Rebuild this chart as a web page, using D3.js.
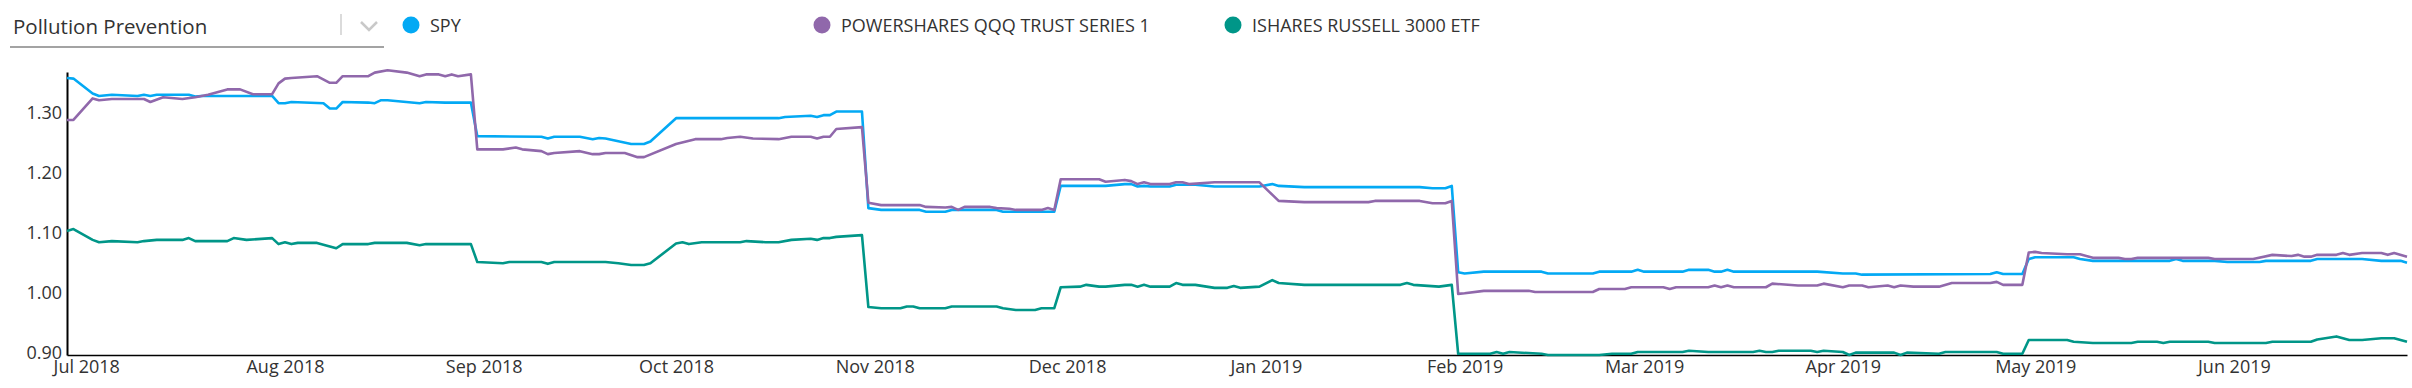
<!DOCTYPE html>
<html>
<head>
<meta charset="utf-8">
<script src="https://cdn.jsdelivr.net/npm/d3@7"></script>
<style>
  body { margin: 0; background: #fff; font-family: "Open Sans", sans-serif; }
  .axis text { font-family: "Open Sans", sans-serif; font-size: 18px; fill: #333; }
</style>
</head>
<body>
<div id="chart"></div>
<script>
// series names + colours (legend order)
var seriesNames = ["SPY", "POWERSHARES QQQ TRUST SERIES 1", "ISHARES RUSSELL 3000 ETF"];
var seriesColors = ["#03a9f4", "#9068ab", "#009688"];

// x extent of the data and y tick labels
var dateRange = ["2018-06-28", "2019-06-28"];
var yRange = [0.896, 1.368];
var yTicks = [0.90, 1.00, 1.10, 1.20, 1.30];

// values: [date, value]
var spy = [
  ["2018-06-28",1.358],["2018-06-29",1.357],["2018-07-02",1.332],["2018-07-03",1.328],["2018-07-05",1.330],
  ["2018-07-09",1.328],["2018-07-10",1.330],["2018-07-11",1.328],["2018-07-12",1.330],["2018-07-17",1.330],
  ["2018-07-18",1.327],["2018-07-19",1.328],["2018-07-30",1.328],["2018-07-31",1.316],["2018-08-01",1.316],
  ["2018-08-02",1.318],["2018-08-07",1.316],["2018-08-08",1.307],["2018-08-09",1.307],["2018-08-10",1.318],
  ["2018-08-14",1.317],["2018-08-15",1.316],["2018-08-16",1.321],["2018-08-17",1.321],["2018-08-22",1.316],
  ["2018-08-23",1.318],["2018-08-26",1.317],["2018-08-30",1.317],["2018-08-31",1.261],["2018-09-10",1.260],
  ["2018-09-11",1.257],["2018-09-12",1.260],["2018-09-16",1.260],["2018-09-18",1.256],["2018-09-19",1.258],
  ["2018-09-20",1.257],["2018-09-24",1.248],["2018-09-26",1.248],["2018-09-27",1.252],["2018-10-01",1.291],
  ["2018-10-17",1.291],["2018-10-18",1.293],["2018-10-22",1.295],["2018-10-23",1.293],["2018-10-24",1.296],
  ["2018-10-25",1.296],["2018-10-26",1.302],["2018-10-30",1.302],["2018-10-31",1.141],["2018-11-02",1.138],
  ["2018-11-08",1.138],["2018-11-09",1.135],["2018-11-12",1.135],["2018-11-13",1.138],["2018-11-20",1.138],
  ["2018-11-21",1.135],["2018-11-29",1.135],["2018-11-30",1.178],["2018-12-07",1.178],["2018-12-10",1.181],
  ["2018-12-11",1.181],["2018-12-12",1.177],["2018-12-13",1.178],["2018-12-14",1.177],["2018-12-17",1.177],
  ["2018-12-18",1.180],["2018-12-21",1.180],["2018-12-24",1.177],["2018-12-31",1.177],["2019-01-02",1.181],
  ["2019-01-03",1.178],["2019-01-07",1.176],["2019-01-25",1.176],["2019-01-27",1.174],["2019-01-29",1.174],
  ["2019-01-30",1.178],["2019-01-31",1.034],["2019-02-01",1.032],["2019-02-04",1.035],["2019-02-13",1.035],
  ["2019-02-14",1.032],["2019-02-21",1.032],["2019-02-22",1.035],["2019-02-27",1.035],["2019-02-28",1.038],
  ["2019-03-01",1.035],["2019-03-07",1.035],["2019-03-08",1.038],["2019-03-11",1.038],["2019-03-12",1.035],
  ["2019-03-13",1.035],["2019-03-14",1.038],["2019-03-15",1.035],["2019-03-28",1.035],["2019-04-01",1.032],
  ["2019-04-03",1.032],["2019-04-04",1.030],["2019-04-24",1.031],["2019-04-25",1.034],["2019-04-26",1.031],
  ["2019-04-29",1.031],["2019-04-30",1.056],["2019-05-01",1.059],["2019-05-07",1.059],["2019-05-08",1.056],
  ["2019-05-10",1.053],["2019-05-22",1.053],["2019-05-23",1.056],["2019-05-24",1.053],["2019-05-29",1.053],
  ["2019-05-31",1.051],["2019-06-05",1.051],["2019-06-06",1.053],["2019-06-13",1.053],["2019-06-14",1.056],
  ["2019-06-21",1.056],["2019-06-24",1.053],["2019-06-27",1.053],["2019-06-28",1.050]
];

var qqq = [
  ["2018-06-28",1.288],["2018-06-29",1.288],["2018-07-02",1.324],["2018-07-03",1.321],["2018-07-05",1.323],
  ["2018-07-10",1.323],["2018-07-11",1.318],["2018-07-13",1.326],["2018-07-16",1.323],["2018-07-18",1.326],
  ["2018-07-20",1.330],["2018-07-23",1.339],["2018-07-25",1.339],["2018-07-27",1.331],["2018-07-30",1.331],
  ["2018-07-31",1.349],["2018-08-01",1.357],["2018-08-02",1.358],["2018-08-06",1.361],["2018-08-08",1.350],
  ["2018-08-09",1.350],["2018-08-10",1.361],["2018-08-14",1.361],["2018-08-15",1.367],["2018-08-17",1.371],
  ["2018-08-20",1.367],["2018-08-22",1.361],["2018-08-23",1.364],["2018-08-25",1.364],["2018-08-26",1.361],
  ["2018-08-27",1.364],["2018-08-28",1.361],["2018-08-30",1.364],["2018-08-31",1.239],["2018-09-04",1.239],
  ["2018-09-06",1.242],["2018-09-07",1.239],["2018-09-10",1.236],["2018-09-11",1.231],["2018-09-12",1.233],
  ["2018-09-16",1.236],["2018-09-18",1.231],["2018-09-19",1.231],["2018-09-20",1.233],["2018-09-23",1.233],
  ["2018-09-25",1.226],["2018-09-26",1.226],["2018-10-01",1.248],["2018-10-04",1.256],["2018-10-08",1.256],
  ["2018-10-09",1.258],["2018-10-11",1.260],["2018-10-13",1.257],["2018-10-17",1.256],["2018-10-19",1.260],
  ["2018-10-22",1.260],["2018-10-23",1.257],["2018-10-24",1.260],["2018-10-25",1.260],["2018-10-26",1.273],
  ["2018-10-30",1.276],["2018-10-31",1.150],["2018-11-02",1.146],["2018-11-08",1.146],["2018-11-09",1.143],
  ["2018-11-12",1.142],["2018-11-13",1.143],["2018-11-14",1.138],["2018-11-15",1.143],["2018-11-19",1.143],
  ["2018-11-20",1.141],["2018-11-22",1.140],["2018-11-23",1.138],["2018-11-27",1.138],["2018-11-28",1.141],
  ["2018-11-29",1.138],["2018-11-30",1.189],["2018-12-06",1.189],["2018-12-07",1.185],["2018-12-10",1.188],
  ["2018-12-11",1.186],["2018-12-12",1.181],["2018-12-13",1.184],["2018-12-14",1.181],["2018-12-17",1.181],
  ["2018-12-18",1.184],["2018-12-19",1.184],["2018-12-20",1.181],["2018-12-24",1.184],["2018-12-31",1.184],
  ["2019-01-03",1.153],["2019-01-07",1.151],["2019-01-17",1.151],["2019-01-18",1.153],["2019-01-25",1.153],
  ["2019-01-27",1.149],["2019-01-29",1.149],["2019-01-30",1.153],["2019-01-31",0.998],["2019-02-01",0.999],
  ["2019-02-04",1.003],["2019-02-11",1.003],["2019-02-12",1.001],["2019-02-21",1.001],["2019-02-22",1.006],
  ["2019-02-26",1.006],["2019-02-27",1.009],["2019-03-04",1.009],["2019-03-05",1.006],["2019-03-06",1.009],
  ["2019-03-11",1.009],["2019-03-12",1.012],["2019-03-13",1.009],["2019-03-14",1.012],["2019-03-15",1.009],
  ["2019-03-20",1.009],["2019-03-21",1.015],["2019-03-25",1.012],["2019-03-28",1.012],["2019-03-29",1.015],
  ["2019-04-01",1.009],["2019-04-02",1.012],["2019-04-04",1.012],["2019-04-05",1.009],["2019-04-08",1.012],
  ["2019-04-09",1.009],["2019-04-10",1.012],["2019-04-12",1.010],["2019-04-16",1.010],["2019-04-18",1.016],
  ["2019-04-24",1.016],["2019-04-25",1.018],["2019-04-26",1.013],["2019-04-29",1.013],["2019-04-30",1.067],
  ["2019-05-01",1.068],["2019-05-02",1.066],["2019-05-06",1.064],["2019-05-08",1.064],["2019-05-10",1.058],
  ["2019-05-14",1.058],["2019-05-15",1.056],["2019-05-16",1.056],["2019-05-17",1.058],["2019-05-28",1.058],
  ["2019-05-29",1.056],["2019-06-04",1.056],["2019-06-07",1.063],["2019-06-10",1.061],["2019-06-11",1.063],
  ["2019-06-12",1.060],["2019-06-13",1.060],["2019-06-14",1.063],["2019-06-17",1.063],["2019-06-18",1.066],
  ["2019-06-19",1.063],["2019-06-21",1.066],["2019-06-24",1.066],["2019-06-25",1.063],["2019-06-26",1.066],
  ["2019-06-28",1.060]
];

var iwv = [
  ["2018-06-28",1.103],["2018-06-29",1.106],["2018-07-02",1.088],["2018-07-03",1.084],["2018-07-05",1.086],
  ["2018-07-09",1.084],["2018-07-10",1.086],["2018-07-12",1.088],["2018-07-16",1.088],["2018-07-17",1.091],
  ["2018-07-18",1.086],["2018-07-23",1.086],["2018-07-24",1.091],["2018-07-26",1.088],["2018-07-30",1.091],
  ["2018-07-31",1.081],["2018-08-01",1.084],["2018-08-02",1.081],["2018-08-03",1.083],["2018-08-06",1.083],
  ["2018-08-08",1.077],["2018-08-09",1.074],["2018-08-10",1.081],["2018-08-14",1.081],["2018-08-15",1.083],
  ["2018-08-20",1.083],["2018-08-22",1.079],["2018-08-23",1.081],["2018-08-30",1.081],["2018-08-31",1.051],
  ["2018-09-04",1.049],["2018-09-05",1.051],["2018-09-10",1.051],["2018-09-11",1.048],["2018-09-12",1.051],
  ["2018-09-20",1.051],["2018-09-22",1.049],["2018-09-24",1.046],["2018-09-26",1.046],["2018-09-27",1.049],
  ["2018-10-01",1.082],["2018-10-02",1.084],["2018-10-03",1.081],["2018-10-05",1.084],["2018-10-11",1.084],
  ["2018-10-12",1.086],["2018-10-15",1.084],["2018-10-17",1.084],["2018-10-19",1.088],["2018-10-22",1.090],
  ["2018-10-23",1.088],["2018-10-24",1.091],["2018-10-25",1.091],["2018-10-26",1.093],["2018-10-30",1.096],
  ["2018-10-31",0.976],["2018-11-02",0.974],["2018-11-05",0.974],["2018-11-06",0.977],["2018-11-07",0.977],
  ["2018-11-08",0.974],["2018-11-12",0.974],["2018-11-13",0.977],["2018-11-20",0.977],["2018-11-21",0.974],
  ["2018-11-23",0.971],["2018-11-26",0.971],["2018-11-27",0.974],["2018-11-29",0.974],["2018-11-30",1.009],
  ["2018-12-03",1.010],["2018-12-04",1.013],["2018-12-06",1.010],["2018-12-07",1.010],["2018-12-10",1.013],
  ["2018-12-11",1.013],["2018-12-12",1.010],["2018-12-13",1.013],["2018-12-14",1.010],["2018-12-17",1.010],
  ["2018-12-18",1.016],["2018-12-19",1.013],["2018-12-21",1.013],["2018-12-24",1.008],["2018-12-26",1.008],
  ["2018-12-27",1.011],["2018-12-28",1.008],["2018-12-31",1.010],["2019-01-02",1.021],["2019-01-03",1.016],
  ["2019-01-07",1.013],["2019-01-22",1.013],["2019-01-23",1.016],["2019-01-24",1.013],["2019-01-28",1.010],
  ["2019-01-30",1.013],["2019-01-31",0.898],["2019-02-05",0.898],["2019-02-06",0.901],["2019-02-07",0.898],
  ["2019-02-08",0.901],["2019-02-13",0.898],["2019-02-14",0.896],["2019-02-22",0.896],["2019-02-24",0.898],
  ["2019-02-27",0.898],["2019-02-28",0.901],["2019-03-07",0.901],["2019-03-08",0.903],["2019-03-11",0.901],
  ["2019-03-18",0.901],["2019-03-19",0.903],["2019-03-20",0.901],["2019-03-21",0.901],["2019-03-22",0.903],
  ["2019-03-27",0.903],["2019-03-28",0.901],["2019-03-29",0.903],["2019-04-01",0.901],["2019-04-02",0.896],
  ["2019-04-03",0.900],["2019-04-09",0.900],["2019-04-10",0.896],["2019-04-11",0.900],["2019-04-16",0.898],
  ["2019-04-17",0.901],["2019-04-25",0.901],["2019-04-26",0.898],["2019-04-29",0.898],["2019-04-30",0.921],
  ["2019-05-06",0.921],["2019-05-07",0.918],["2019-05-10",0.916],["2019-05-16",0.916],["2019-05-17",0.918],
  ["2019-05-20",0.918],["2019-05-21",0.916],["2019-05-22",0.918],["2019-05-28",0.918],["2019-05-29",0.916],
  ["2019-06-06",0.916],["2019-06-07",0.918],["2019-06-13",0.918],["2019-06-14",0.922],["2019-06-17",0.927],
  ["2019-06-19",0.921],["2019-06-21",0.921],["2019-06-24",0.924],["2019-06-26",0.924],["2019-06-28",0.918]
];

var allSeries = [spy, qqq, iwv];

//svg size = window size; plot box picked to match the screenshot
var width = 2412, height = 388;
var plot = { left: 67, right: 2407, top: 72, bottom: 355 };

var svg = d3.select("#chart")
    .append("svg")
    .attr("width", width)
    .attr("height", height);

var parseDate = d3.utcParse("%Y-%m-%d");

var x = d3.scaleUtc()
    .domain(dateRange.map(parseDate))
    .range([plot.left, plot.right]);

var y = d3.scaleLinear()
    .domain(yRange)
    .range([plot.bottom, plot.top]);

// header: dropdown look-alike
var header = svg.append("g").attr("class", "header");
header.append("text")
    .attr("x", 13)
    .attr("y", 34)
    .attr("font-size", 20.5)
    .attr("fill", "#333")
    .text("Pollution Prevention");
header.append("line")
    .attr("x1", 10).attr("x2", 384)
    .attr("y1", 47).attr("y2", 47)
    .attr("stroke", "#a3a3a3")
    .attr("stroke-width", 2);
header.append("line")
    .attr("x1", 341).attr("x2", 341)
    .attr("y1", 14).attr("y2", 35)
    .attr("stroke", "#cfcfcf")
    .attr("stroke-width", 1.5);
header.append("path")
    .attr("d", "M361,22L369,30L377,22")
    .attr("fill", "none")
    .attr("stroke", "#c9c9c9")
    .attr("stroke-width", 2.5);

// legend
var legend = svg.selectAll(".legend-item")
    .data(seriesNames)
    .enter()
    .append("g")
    .attr("class", "legend-item")
    .attr("transform", (d, i) => "translate(" + (411 + i * 411) + ",25)");
legend.append("circle")
    .attr("r", 8.5)
    .attr("fill", (d, i) => seriesColors[i]);
legend.append("text")
    .attr("x", 19)
    .attr("y", 7)
    .attr("font-size", 18)
    .attr("fill", "#333")
    .text(d => d);

// axes
var xAxis = svg.append("g")
    .attr("class", "axis x-axis")
    .attr("transform", "translate(0," + plot.bottom + ")")
    .call(d3.axisBottom(x)
        .ticks(d3.utcMonth.every(1))
        .tickFormat(d3.utcFormat("%b %Y"))
        .tickSize(0)
        .tickPadding(5));
xAxis.select(".domain").attr("stroke", "#000").attr("stroke-width", 1.5);

var yAxis = svg.append("g")
    .attr("class", "axis y-axis")
    .attr("transform", "translate(" + plot.left + ",0)")
    .call(d3.axisLeft(y)
        .tickValues(yTicks)
        .tickFormat(d3.format(".2f"))
        .tickSize(0)
        .tickPadding(5));
yAxis.select(".domain").attr("stroke", "#000").attr("stroke-width", 2);

// lines
var line = d3.line()
    .x(d => x(parseDate(d[0])))
    .y(d => y(d[1]));

svg.selectAll(".series")
    .data(allSeries)
    .enter()
    .append("path")
    .attr("class", "series")
    .attr("d", line)
    .attr("fill", "none")
    .attr("stroke", (d, i) => seriesColors[i])
    .attr("stroke-width", 2.6)
    .attr("stroke-linejoin", "round");
</script>
</body>
</html>
